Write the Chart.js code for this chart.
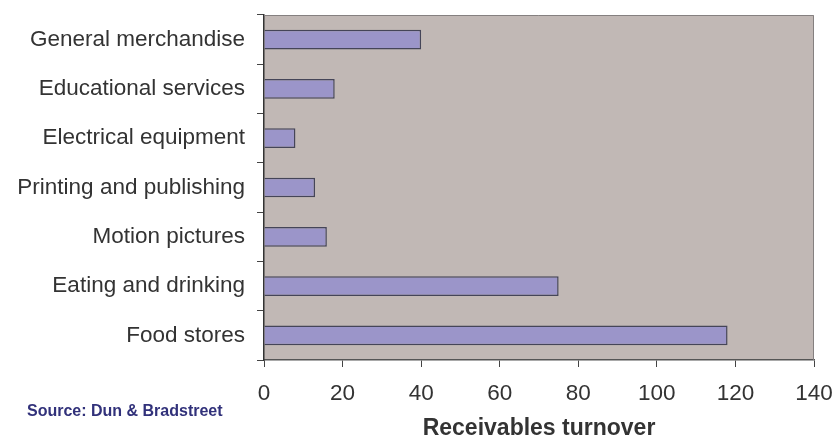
<!DOCTYPE html>
<html>
<head>
<meta charset="utf-8">
<title>Receivables turnover</title>
<script src="https://cdn.jsdelivr.net/npm/chart.js@4.4.1/dist/chart.umd.min.js"></script>
<style>
  html, body { margin: 0; padding: 0; background: #fff; }
  #wrap { width: 838px; height: 440px; }
</style>
</head>
<body>
<div id="wrap"><canvas id="turnoverChart" width="838" height="440"></canvas></div>
<script>
const industries = [
  "General merchandise",
  "Educational services",
  "Electrical equipment",
  "Printing and publishing",
  "Motion pictures",
  "Eating and drinking",
  "Food stores"
];
const turnover = [40, 18, 8, 13, 16, 75, 118];
const xTicks = [0, 20, 40, 60, 80, 100, 120, 140];
const sourceNote = "Source: Dun & Bradstreet";

const FONT = "'Liberation Sans', Arial, sans-serif";

// plot background + top/right frame + source note
const plotFrame = {
  id: "plotFrame",
  beforeDraw(chart) {
    const { ctx, chartArea: a } = chart;
    ctx.save();
    ctx.fillStyle = "#C1B8B5";
    ctx.fillRect(a.left, a.top, a.right - a.left, a.bottom - a.top);
    ctx.restore();
  },
  afterDraw(chart) {
    const { ctx, chartArea: a } = chart;
    ctx.save();
    ctx.strokeStyle = "#858080";
    ctx.lineWidth = 1;
    ctx.beginPath();
    ctx.moveTo(a.left, a.top + 0.5);
    ctx.lineTo(a.right - 0.5, a.top + 0.5);
    ctx.lineTo(a.right - 0.5, a.bottom);
    ctx.stroke();
    ctx.fillStyle = "#31317A";
    ctx.font = "bold 16px " + FONT;
    ctx.textBaseline = "alphabetic";
    ctx.fillText(sourceNote, 27, 416);
    ctx.restore();
  }
};

const ctx = document.getElementById("turnoverChart").getContext("2d");
new Chart(ctx, {
  type: "bar",
  data: {
    labels: industries,
    datasets: [{
      label: "Receivables turnover",
      data: turnover,
      backgroundColor: "#9B95C9",
      borderColor: "#454558",
      borderWidth: 1.5,
      borderSkipped: "left",
      barPercentage: 0.8,
      categoryPercentage: 0.5
    }]
  },
  options: {
    indexAxis: "y",
    responsive: false,
    animation: false,
    layout: { padding: { top: 15, right: 24, left: 0, bottom: 0 } },
    plugins: {
      legend: { display: false },
      tooltip: { enabled: false }
    },
    scales: {
      x: {
        min: 0,
        max: 140,
        afterFit: s => { s.height = 80; s.paddingLeft = 0; s.paddingRight = 0; },
        afterBuildTicks: s => { s.ticks = xTicks.map(v => ({ value: v })); },
        grid: { drawOnChartArea: false, drawTicks: true, tickLength: 7, color: "#444" },
        border: { display: true, color: "#555", width: 1.5 },
        ticks: {
          color: "#333",
          padding: 13,
          font: { family: FONT, size: 22.5 }
        },
        title: {
          display: true,
          text: "Receivables turnover",
          color: "#333",
          padding: { top: 0, bottom: 0 },
          font: { family: FONT, size: 23, weight: "bold", lineHeight: 1 }
        }
      },
      y: {
        afterFit: s => { s.width = 264; s.paddingTop = 0; s.paddingBottom = 0; },
        grid: { offset: true, drawOnChartArea: false, drawTicks: true, tickLength: 7, color: "#444" },
        border: { display: true, color: "#333", width: 1.5 },
        ticks: {
          color: "#333",
          padding: 12,
          font: { family: FONT, size: 22.5 }
        }
      }
    }
  },
  plugins: [plotFrame]
});
</script>
</body>
</html>
